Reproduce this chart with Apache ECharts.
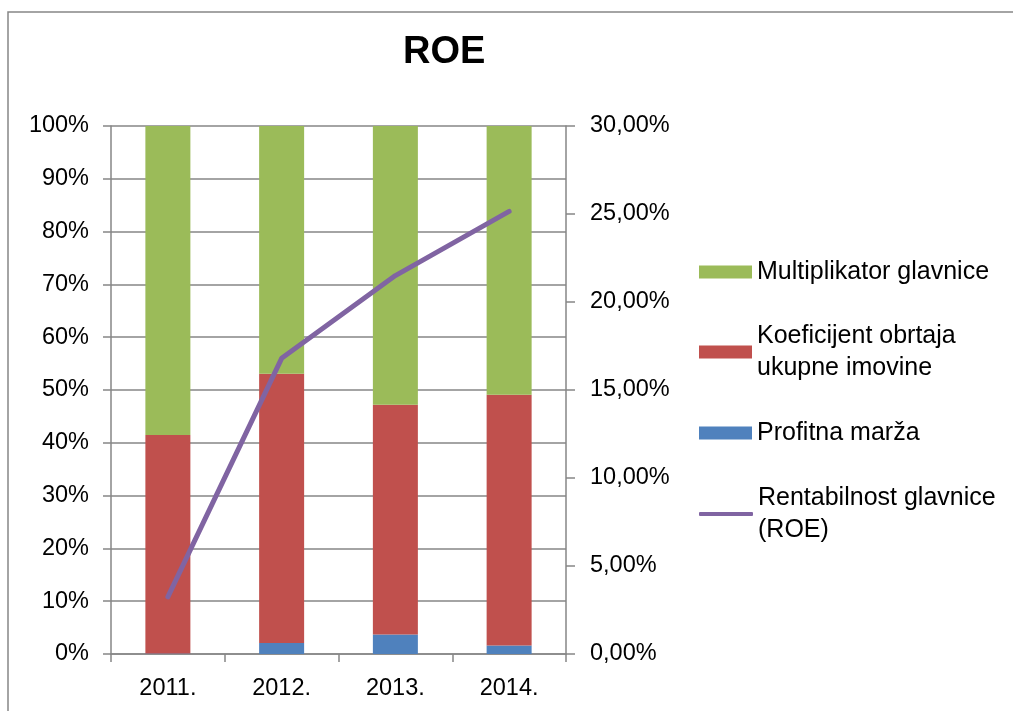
<!DOCTYPE html>
<html>
<head>
<meta charset="utf-8">
<title>ROE</title>
<script src="https://cdn.jsdelivr.net/npm/echarts@6/dist/echarts.min.js"></script>
<style>
  html, body { margin: 0; padding: 0; background: #fff; }
  #chart { width: 1013px; height: 711px; }
</style>
</head>
<body>
<div id="chart"></div>
<script>
// Podaci procitani sa grafikona
const godine = ['2011.', '2012.', '2013.', '2014.'];
const profitnaMarza = [0.1, 2.1, 3.7, 1.6];
const koeficijentObrtaja = [41.4, 51.0, 43.5, 47.5];
const multiplikatorGlavnice = [58.5, 46.9, 52.8, 50.9];
const roe = [3.25, 16.8, 21.5, 25.15];

const leviTickovi = [0, 10, 20, 30, 40, 50, 60, 70, 80, 90, 100];
const desniTickovi = [0, 5, 10, 15, 20, 25, 30];

const siva = '#868686';
const font = 'Liberation Sans';
const velicina = 23.5;
const lh = 32;

var myChart = echarts.init(document.getElementById('chart'));

// Legenda: svaka stavka posebno da bi ikona stajala uz prvi red teksta
function legenda(ime, centar, visina, ikona, sirina, viseRedova) {
    return {
        data: [{ name: ime, icon: ikona }],
        orient: 'vertical',
        left: 699,
        top: viseRedova ? centar - 1.5 * lh : centar - lh / 2,
        padding: 0,
        itemWidth: sirina,
        itemHeight: visina,
        selectedMode: false,
        textStyle: {
            fontFamily: font,
            fontSize: 25,
            color: '#000',
            lineHeight: lh,
            padding: viseRedova ? [lh, 0, 0, 0] : 0
        }
    };
}

var option = {
    animation: false,
    textStyle: { fontFamily: font },
    title: {
        text: 'ROE',
        left: 398,
        top: 29,
        textStyle: { fontFamily: font, fontSize: 38, fontWeight: 'bold', color: '#000' }
    },
    graphic: [{
        type: 'rect',
        shape: { x: 8, y: 12, width: 1030, height: 730 },
        style: { fill: 'none', stroke: siva, lineWidth: 1.5 },
        silent: true
    }],
    legend: [
        legenda('Multiplikator glavnice', 272, 13, 'rect', 53, false),
        legenda('Koeficijent obrtaja\nukupne imovine', 352, 13, 'rect', 53, true),
        legenda('Profitna marža', 433, 13, 'rect', 53, false),
        legenda('Rentabilnost glavnice\n(ROE)', 514, 4, 'roundRect', 54, true)
    ],
    grid: { left: 111, right: 447, top: 126, bottom: 57 },
    xAxis: {
        type: 'category',
        data: godine,
        axisLine: { lineStyle: { color: siva, width: 1.5 } },
        axisTick: { show: true, length: 8, lineStyle: { color: siva, width: 1.5 } },
        axisLabel: { fontSize: velicina, color: '#000', margin: 23, fontFamily: font }
    },
    yAxis: [{
        type: 'value',
        min: leviTickovi[0],
        max: leviTickovi[leviTickovi.length - 1],
        interval: 10,
        axisLine: { show: true, lineStyle: { color: siva, width: 1.5 } },
        axisTick: { show: true, length: 8, lineStyle: { color: siva, width: 1.5 } },
        splitLine: { lineStyle: { color: siva, width: 1.5 } },
        axisLabel: { fontSize: velicina, color: '#000', margin: 22, fontFamily: font, formatter: '{value}%' }
    }, {
        type: 'value',
        position: 'right',
        min: desniTickovi[0],
        max: desniTickovi[desniTickovi.length - 1],
        interval: 5,
        axisLine: { show: true, lineStyle: { color: siva, width: 1.5 } },
        axisTick: { show: true, length: 9, lineStyle: { color: siva, width: 1.5 } },
        splitLine: { show: false },
        axisLabel: {
            fontSize: velicina, color: '#000', margin: 24, fontFamily: font,
            formatter: function (v) { return v.toFixed(2).replace('.', ',') + '%'; }
        }
    }],
    series: [{
        name: 'Profitna marža',
        type: 'bar',
        stack: 'ukupno',
        barWidth: 45,
        itemStyle: { color: '#4F81BD' },
        data: profitnaMarza
    }, {
        name: 'Koeficijent obrtaja\nukupne imovine',
        type: 'bar',
        stack: 'ukupno',
        barWidth: 45,
        itemStyle: { color: '#C0504D' },
        data: koeficijentObrtaja
    }, {
        name: 'Multiplikator glavnice',
        type: 'bar',
        stack: 'ukupno',
        barWidth: 45,
        itemStyle: { color: '#9BBB59' },
        data: multiplikatorGlavnice
    }, {
        name: 'Rentabilnost glavnice\n(ROE)',
        type: 'line',
        yAxisIndex: 1,
        showSymbol: false,
        symbol: 'none',
        lineStyle: { color: '#8064A2', width: 5, cap: 'round', join: 'round' },
        itemStyle: { color: '#8064A2' },
        z: 5,
        data: roe
    }]
};

myChart.setOption(option);
</script>
</body>
</html>
